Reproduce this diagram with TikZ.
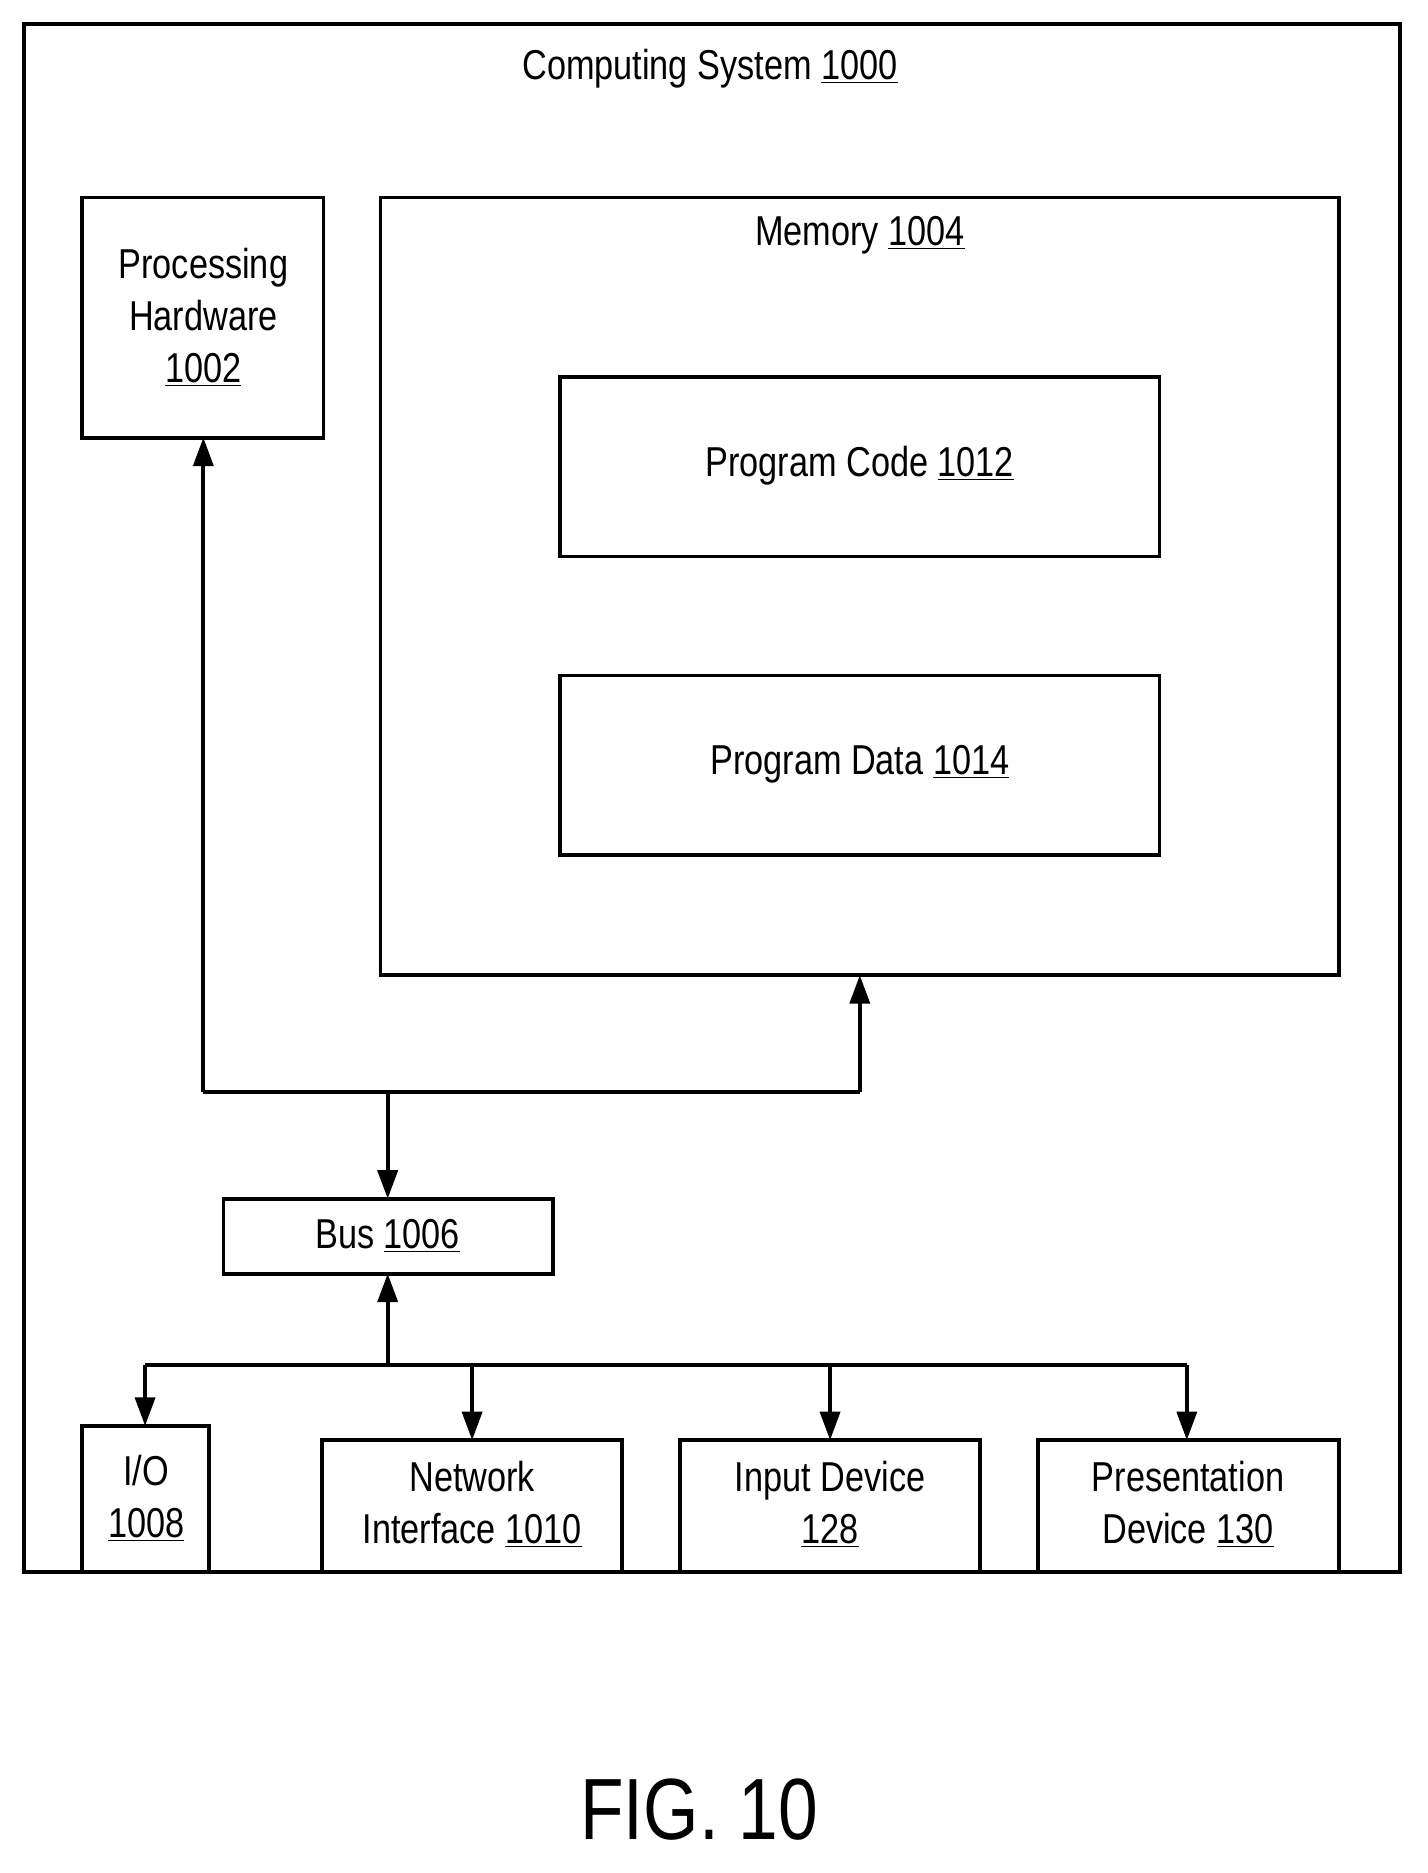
\documentclass[tikz,border=0pt]{standalone}
\usepackage{fontspec}
\setmainfont{Liberation Sans}[FakeStretch=0.82]
\usetikzlibrary{arrows.meta}
\begin{document}
\begin{tikzpicture}[x=0.25mm,y=-0.25mm,
  box/.style={draw,line width=0.8mm},
  lbl/.style={font=\fontsize{25pt}{31pt}\selectfont,align=center,inner sep=0},
  ln/.style={line width=0.8mm},
  arr/.style={ln,-{Triangle[length=6mm,width=4.2mm]}}]
\useasboundingbox (0,0) rectangle (1200,1575);
\draw[box] (20,20) rectangle (1177,1322);
\node[lbl] (cs) at (597,58) {Computing System \underline{1000}};
\draw[box] (69,166) rectangle (272,368);
\node[lbl] (ph) at (171,267) {Processing\\Hardware\\\underline{1002}};
\coordinate (phb) at (171,368);
\draw[box] (320,166) rectangle (1126,820);
\node[lbl] (mem) at (723,198) {Memory \underline{1004}};
\coordinate (memb) at (723,820);
\draw[box] (471,317) rectangle (975,468);
\node[lbl] (pc) at (723,392) {Program Code \underline{1012}};
\draw[box] (471,568) rectangle (975,719);
\node[lbl] (pd) at (723,643) {Program Data \underline{1014}};
\draw[box] (188,1008) rectangle (465,1071);
\node[lbl] (bus) at (326,1039) {Bus \underline{1006}};
\coordinate (bust) at (326,1008);
\coordinate (busb) at (326,1071);
\coordinate (j1) at (326,918);
\coordinate (j2) at (326,1148);
\draw[ln] (171,918) -- (723,918);
\draw[arr] (171,918) -- (phb);
\draw[arr] (723,918) -- (memb);
\draw[arr] (j1) -- (bust);
\draw[arr] (j2) -- (busb);
\draw[ln] (122,1148) -- (998,1148);
\draw[box] (69,1199) rectangle (176,1322);
\node[lbl] (io) at (123,1260) {I/O\\\underline{1008}};
\draw[box] (271,1211) rectangle (523,1322);
\node[lbl] (ni) at (397,1265) {Network\\Interface \underline{1010}};
\draw[box] (572,1211) rectangle (824,1322);
\node[lbl] (id) at (698,1265) {Input Device\\\underline{128}};
\draw[box] (873,1211) rectangle (1126,1322);
\node[lbl] (pr) at (999,1265) {Presentation\\Device \underline{130}};
\draw[arr] (122,1148) -- (122,1199);
\draw[arr] (397,1148) -- (397,1211);
\draw[arr] (698,1148) -- (698,1211);
\draw[arr] (998,1148) -- (998,1211);
\node[font=\fontsize{52pt}{60pt}\selectfont,inner sep=0] (fig) at (588,1522) {FIG. 10};
\end{tikzpicture}
\end{document}
